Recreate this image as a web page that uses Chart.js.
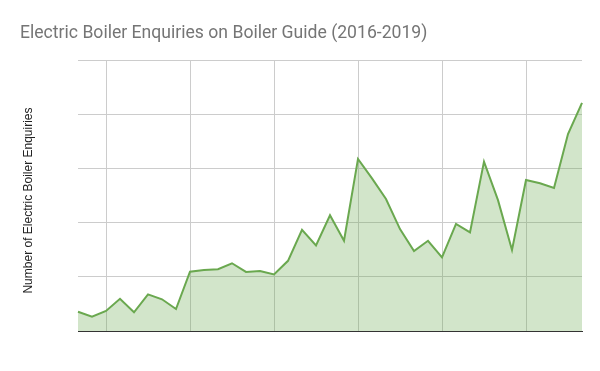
<!DOCTYPE html>
<html>
<head>
<meta charset="utf-8">
<script src="https://cdn.jsdelivr.net/npm/chart.js@4"></script>
<style>
  html, body { margin: 0; padding: 0; background: #fff; }
  #wrap { width: 600px; height: 371px; }
</style>
</head>
<body>
<div id="wrap"><canvas id="myChart" width="600" height="371"></canvas></div>
<script>
const months = [
  "Jan 2016", "Feb 2016", "Mar 2016", "Apr 2016", "May 2016", "Jun 2016",
  "Jul 2016", "Aug 2016", "Sep 2016", "Oct 2016", "Nov 2016", "Dec 2016",
  "Jan 2017", "Feb 2017", "Mar 2017", "Apr 2017", "May 2017", "Jun 2017",
  "Jul 2017", "Aug 2017", "Sep 2017", "Oct 2017", "Nov 2017", "Dec 2017",
  "Jan 2018", "Feb 2018", "Mar 2018", "Apr 2018", "May 2018", "Jun 2018",
  "Jul 2018", "Aug 2018", "Sep 2018", "Oct 2018", "Nov 2018", "Dec 2018",
  "Jan 2019"
];

const enquiries = [
  7.1, 5.3, 7.4, 11.9, 6.9, 13.5, 11.7, 8.1, 21.9, 22.5,
  22.8, 25.0, 21.8, 22.1, 20.9, 25.9, 37.3, 31.6, 42.7, 33.3,
  63.5, 56.3, 48.7, 37.6, 29.5, 33.3, 27.2, 39.5, 36.4, 62.5,
  48.3, 29.9, 55.7, 54.5, 52.8, 72.7, 84.2
];

// vertical grid lines every six months
const gridEvery = 6;
const gridStart = 2;

const ctx = document.getElementById("myChart");

new Chart(ctx, {
  type: "line",
  data: {
    labels: months,
    datasets: [
      {
        label: "Electric Boiler Enquiries",
        data: enquiries,
        borderColor: "#6aa84f",
        backgroundColor: "rgba(106, 168, 79, 0.3)",
        borderWidth: 2,
        pointRadius: 0,
        tension: 0,
        fill: "origin",
      },
    ],
  },
  options: {
    responsive: false,
    animation: false,
    layout: { padding: { left: 20, right: 18, top: 0, bottom: 0 } },
    plugins: {
      legend: { display: false },
      tooltip: { enabled: false },
      title: {
        display: true,
        text: "Electric Boiler Enquiries on Boiler Guide (2016-2019)",
        align: "start",
        color: "#757575",
        font: { family: "Roboto", size: 17.6, weight: "normal" },
        padding: { top: 23.5, bottom: 15.4 },
      },
    },
    scales: {
      x: {
        type: "category",
        offset: false,
        ticks: { display: false, autoSkip: false },
        grid: {
          drawTicks: false,
          color: (c) =>
            c.index >= gridStart && (c.index - gridStart) % gridEvery === 0
              ? "#cccccc"
              : "rgba(0,0,0,0)",
          lineWidth: 1,
        },
        border: { display: true, color: "#333333", width: 1 },
        afterFit: (scale) => {
          scale.height = 40;
        },
      },
      y: {
        min: 0,
        max: 100,
        ticks: { display: false, stepSize: 20 },
        grid: { drawTicks: false, color: "#cccccc", lineWidth: 1 },
        border: { display: false },
        title: {
          display: true,
          text: "Number of Electric Boiler Enquiries   ",
          color: "#222222",
          font: { family: "Liberation Sans", size: 12 },
          padding: { top: 1, bottom: 0 },
        },
        afterFit: (scale) => {
          scale.width = 58;
        },
      },
    },
  },
});
</script>
</body>
</html>
